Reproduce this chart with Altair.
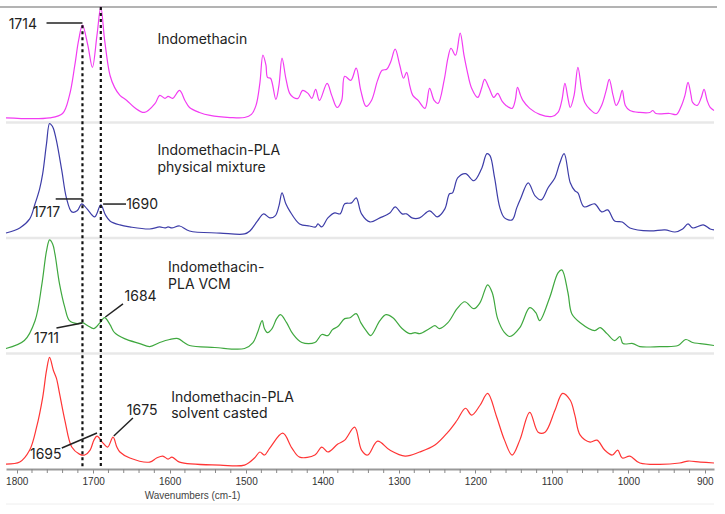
import altair as alt
import pandas as pd

# ---- spectra (wavenumber, relative absorbance within its panel) ----
wn_indo = [1814, 1757, 1740, 1731, 1724, 1719, 1714, 1707, 1701, 1695, 1690, 1685, 1678, 1672, 1665, 1656,
           1646, 1633, 1619, 1613, 1606, 1602, 1596, 1587, 1580, 1574, 1561, 1547, 1521, 1502, 1493, 1487,
           1482, 1478, 1474, 1472, 1468, 1461, 1457, 1453, 1448, 1443, 1438, 1432, 1426, 1419, 1414, 1409,
           1404, 1394, 1388, 1381, 1375, 1371, 1363, 1356, 1350, 1343, 1336, 1328, 1322, 1316, 1311, 1305,
           1299, 1294, 1290, 1286, 1282, 1275, 1266, 1260, 1254, 1249, 1241, 1236, 1232, 1226, 1220, 1215,
           1211, 1205, 1197, 1192, 1188, 1182, 1176, 1171, 1165, 1160, 1152, 1148, 1145, 1141, 1138, 1129,
           1116, 1100, 1092, 1087, 1083, 1079, 1076, 1071, 1066, 1061, 1057, 1050, 1042, 1035, 1029, 1025,
           1020, 1016, 1012, 1008, 1004, 998, 985, 972, 968, 964, 946, 937, 931, 926, 922, 918, 916, 910,
           905, 901, 897, 893, 888]
ab_indo = [0.04, 0.04, 0.078, 0.235, 0.496, 0.713, 0.843, 0.67, 0.478, 0.757, 1.0, 0.713, 0.409, 0.304, 0.235, 0.191,
           0.13, 0.087, 0.165, 0.235, 0.209, 0.226, 0.209, 0.278, 0.191, 0.13, 0.087, 0.061, 0.043, 0.043, 0.07, 0.148,
           0.339, 0.583, 0.496, 0.391, 0.383, 0.2, 0.322, 0.557, 0.383, 0.252, 0.217, 0.209, 0.278, 0.252, 0.209, 0.287,
           0.191, 0.339, 0.235, 0.13, 0.191, 0.4, 0.365, 0.47, 0.278, 0.139, 0.191, 0.365, 0.452, 0.461, 0.522, 0.635,
           0.496, 0.383, 0.435, 0.322, 0.235, 0.191, 0.122, 0.296, 0.191, 0.165, 0.365, 0.557, 0.643, 0.583, 0.774, 0.583,
           0.452, 0.296, 0.217, 0.296, 0.374, 0.296, 0.217, 0.252, 0.183, 0.148, 0.122, 0.191, 0.304, 0.235, 0.191, 0.122,
           0.07, 0.052, 0.087, 0.191, 0.339, 0.209, 0.13, 0.235, 0.478, 0.278, 0.174, 0.113, 0.078, 0.148, 0.278, 0.374,
           0.235, 0.148, 0.191, 0.278, 0.148, 0.104, 0.087, 0.087, 0.104, 0.078, 0.078, 0.07, 0.139, 0.235, 0.348, 0.235, 0.174, 0.148,
           0.209, 0.287, 0.191, 0.13, 0.104]

wn_phys = [1814, 1796, 1783, 1776, 1770, 1766, 1761, 1757, 1754, 1752, 1748, 1741, 1735, 1728, 1721, 1715,
           1708, 1698, 1690, 1684, 1678, 1665, 1652, 1626, 1613, 1606, 1602, 1597, 1587, 1574, 1534, 1502,
           1495, 1485, 1477, 1469, 1462, 1457, 1453, 1448, 1443, 1430, 1417, 1409, 1406, 1401, 1393, 1384,
           1377, 1371, 1362, 1356, 1349, 1338, 1325, 1312, 1305, 1296, 1290, 1283, 1273, 1260, 1250, 1240,
           1234, 1230, 1223, 1213, 1202, 1192, 1185, 1181, 1175, 1168, 1162, 1152, 1146, 1141, 1131, 1122,
           1114, 1105, 1096, 1090, 1084, 1076, 1070, 1066, 1058, 1044, 1035, 1027, 1018, 1008, 998, 972,
           952, 939, 929, 922, 916, 902, 893, 888]
ab_phys = [0.043, 0.087, 0.165, 0.296, 0.426, 0.557, 0.817, 0.991, 0.974, 0.948, 0.843, 0.583, 0.348, 0.226, 0.235, 0.296,
           0.252, 0.183, 0.287, 0.2, 0.148, 0.113, 0.096, 0.078, 0.096, 0.087, 0.096, 0.087, 0.104, 0.061, 0.043, 0.035,
           0.061, 0.148, 0.209, 0.174, 0.191, 0.278, 0.391, 0.296, 0.235, 0.122, 0.104, 0.096, 0.122, 0.096, 0.174, 0.217,
           0.209, 0.296, 0.304, 0.348, 0.209, 0.139, 0.174, 0.217, 0.27, 0.209, 0.209, 0.174, 0.174, 0.235, 0.183, 0.252,
           0.383, 0.391, 0.522, 0.557, 0.496, 0.6, 0.73, 0.713, 0.522, 0.261, 0.174, 0.157, 0.261, 0.339, 0.478, 0.365,
           0.33, 0.435, 0.522, 0.643, 0.73, 0.478, 0.409, 0.391, 0.27, 0.296, 0.226, 0.243, 0.148, 0.139, 0.087, 0.061,
           0.07, 0.052, 0.078, 0.122, 0.087, 0.113, 0.078, 0.07]

wn_vcm = [1814, 1790, 1776, 1767, 1761, 1757, 1753, 1750, 1744, 1737, 1731, 1721, 1714, 1707, 1699, 1691,
          1685, 1678, 1672, 1659, 1639, 1626, 1613, 1600, 1589, 1581, 1574, 1541, 1502, 1491, 1485, 1479,
          1476, 1472, 1466, 1460, 1455, 1447, 1439, 1427, 1410, 1401, 1393, 1387, 1380, 1371, 1364, 1356,
          1350, 1343, 1337, 1325, 1317, 1308, 1296, 1286, 1279, 1273, 1260, 1253, 1247, 1236, 1224, 1214,
          1202, 1194, 1184, 1178, 1171, 1162, 1155, 1142, 1129, 1121, 1116, 1103, 1092, 1087, 1079, 1074,
          1063, 1044, 1037, 1028, 1018, 1011, 1007, 994, 985, 959, 935, 925, 916, 906, 888]
ab_vcm = [0.043, 0.112, 0.284, 0.603, 0.888, 0.983, 0.948, 0.862, 0.603, 0.397, 0.284, 0.259, 0.267, 0.241, 0.216, 0.267,
          0.31, 0.25, 0.181, 0.129, 0.086, 0.06, 0.095, 0.121, 0.129, 0.095, 0.069, 0.052, 0.043, 0.095, 0.181, 0.284,
          0.216, 0.181, 0.216, 0.302, 0.336, 0.267, 0.172, 0.095, 0.095, 0.164, 0.155, 0.207, 0.233, 0.302, 0.31, 0.345,
          0.267, 0.198, 0.155, 0.284, 0.336, 0.31, 0.216, 0.172, 0.181, 0.172, 0.216, 0.241, 0.216, 0.267, 0.388, 0.448,
          0.388, 0.44, 0.595, 0.526, 0.302, 0.181, 0.147, 0.224, 0.397, 0.353, 0.284, 0.483, 0.698, 0.724, 0.526, 0.345,
          0.267, 0.198, 0.224, 0.172, 0.112, 0.147, 0.086, 0.086, 0.06, 0.06, 0.069, 0.121, 0.095, 0.086, 0.069]

wn_solv = [1814, 1796, 1783, 1774, 1766, 1761, 1757, 1752, 1748, 1744, 1737, 1728, 1718, 1711, 1704, 1699,
           1695, 1687, 1681, 1674, 1669, 1665, 1652, 1626, 1617, 1609, 1602, 1597, 1587, 1534, 1502, 1489,
           1482, 1476, 1469, 1452, 1440, 1430, 1410, 1401, 1393, 1380, 1371, 1358, 1349, 1341, 1328, 1312,
           1292, 1273, 1253, 1236, 1224, 1213, 1205, 1194, 1184, 1173, 1162, 1152, 1142, 1129, 1118, 1109,
           1096, 1086, 1076, 1070, 1063, 1050, 1041, 1031, 1021, 1014, 1008, 998, 985, 933, 922, 906, 888]
ab_solv = [0.043, 0.06, 0.164, 0.362, 0.621, 0.853, 0.966, 0.853, 0.784, 0.655, 0.422, 0.19, 0.129, 0.121, 0.164, 0.25,
           0.284, 0.224, 0.19, 0.276, 0.19, 0.147, 0.095, 0.06, 0.095, 0.112, 0.086, 0.103, 0.06, 0.034, 0.034, 0.095,
           0.147, 0.121, 0.181, 0.31, 0.181, 0.103, 0.121, 0.19, 0.147, 0.216, 0.25, 0.362, 0.164, 0.121, 0.241, 0.164,
           0.112, 0.147, 0.207, 0.319, 0.422, 0.526, 0.466, 0.552, 0.655, 0.466, 0.25, 0.121, 0.25, 0.491, 0.319, 0.319,
           0.509, 0.655, 0.595, 0.466, 0.293, 0.233, 0.25, 0.164, 0.121, 0.164, 0.095, 0.112, 0.052, 0.052, 0.069, 0.06, 0.052]

series_names = ["Indomethacin", "Physical mixture", "VCM", "Solvent casted"]
series_offsets = [3, 2, 1, 0]
series_colors = ["#f23cf2", "#3d3da8", "#3fa83f", "#ff3535"]

# sample names (text lines, wavenumber of left edge, vertical position)
name_text = ["Indomethacin", "Indomethacin-PLA", "physical mixture", "Indomethacin-", "PLA VCM",
             "Indomethacin-PLA", "solvent casted"]
name_wn = [1616, 1616, 1616, 1602, 1602, 1598, 1598]
name_y = [3.714, 2.753, 2.606, 1.740, 1.593, 0.615, 0.476]

# peak annotations
peak_text = ["1714", "1717", "1690", "1711", "1684", "1695", "1675"]
peak_text_wn = [1792, 1761, 1636, 1761, 1638, 1762, 1636]
peak_text_y = [3.844, 2.216, 2.286, 1.126, 1.489, 0.121, 0.502]
lead_wn1 = [1761, 1749, 1687, 1748, 1661, 1741, 1648]
lead_y1 = [3.861, 2.338, 2.294, 1.221, 1.429, 0.182, 0.442]
lead_wn2 = [1714, 1714, 1657, 1714, 1684, 1695, 1673]
lead_y2 = [3.861, 2.338, 2.294, 1.264, 1.316, 0.312, 0.286]

# dotted reference lines
ref_wn = [1714, 1690]
ref_top = [3.843, 4.0]

# axis ticks
major_ticks = [1800, 1700, 1600, 1500, 1400, 1300, 1200, 1100, 1000, 900]
minor_ticks = [v for v in range(900, 1801, 20) if v % 100 != 0]

# ---- build tables ----
rows = []
for name, off, wns, abs_ in zip(series_names, series_offsets,
                                 [wn_indo, wn_phys, wn_vcm, wn_solv],
                                 [ab_indo, ab_phys, ab_vcm, ab_solv]):
    for w, a in zip(wns, abs_):
        rows.append({"wn": w, "y": a + off, "series": name})
spec = pd.DataFrame(rows)

names_df = pd.DataFrame({"t": name_text, "wn": name_wn, "y": name_y})
peaks_df = pd.DataFrame({"t": peak_text, "wn": peak_text_wn, "y": peak_text_y})
leads_df = pd.DataFrame({"wn": lead_wn1, "y": lead_y1, "wn2": lead_wn2, "y2": lead_y2})
refs_df = pd.DataFrame({"wn": ref_wn, "top": ref_top, "bot": [0, 0]})
sep_df = pd.DataFrame({"y": [1, 2, 3]})
top_df = pd.DataFrame({"y": [4]})
minor_df = pd.DataFrame({"wn": minor_ticks})

xscale = alt.Scale(domain=[888, 1814], reverse=True, nice=False, zero=False)
yscale = alt.Scale(domain=[0, 4], nice=False, zero=False)

xaxis = alt.Axis(values=major_ticks, format="d",
                 labelOverlap=False, labelBound=False,
                 title="Wavenumbers (cm-1)", titleX=186, titleY=21, titleAnchor="start",
                 titleAlign="center", titleFont="Liberation Sans", titleFontSize=10,
                 titleFontWeight="normal", titleColor="#444",
                 labelFont="Liberation Sans", labelFontSize=10, labelColor="#333",
                 labelPadding=3, tickSize=4, tickColor="#888", domainColor="#999",
                 domainWidth=2, grid=False, labelFlush=False)

base = alt.Chart(spec)

seps = alt.Chart(sep_df).mark_rule(color="#e8e8e8", strokeWidth=2.5).encode(
    y=alt.Y("y:Q", scale=yscale, axis=None))
topline = alt.Chart(top_df).mark_rule(color="#9a9a9a", strokeWidth=1.5).encode(
    y=alt.Y("y:Q", scale=yscale, axis=None), x=alt.value(-6), x2=alt.value(711))
bottomline = alt.Chart(top_df).mark_rule(color="#eeeeee", strokeWidth=1).encode(
    x=alt.value(0), x2=alt.value(708), y=alt.value(497))
minor = alt.Chart(minor_df).mark_rule(color="#888", strokeWidth=1).encode(
    x=alt.X("wn:Q", scale=xscale), y=alt.value(462), y2=alt.value(466))

lines = base.mark_line(strokeWidth=1.2, interpolate="catmull-rom").encode(
    x=alt.X("wn:Q", scale=xscale, axis=xaxis),
    y=alt.Y("y:Q", scale=yscale, axis=None),
    color=alt.Color("series:N", scale=alt.Scale(domain=series_names, range=series_colors), legend=None),
    order=alt.Order("wn:Q"),
    detail="series:N",
)

refs = alt.Chart(refs_df).mark_rule(color="#111", strokeWidth=2.2, strokeDash=[3, 3]).encode(
    x=alt.X("wn:Q", scale=xscale), y=alt.Y("top:Q", scale=yscale), y2="bot:Q")

leads = alt.Chart(leads_df).mark_rule(color="#222", strokeWidth=1.5).encode(
    x=alt.X("wn:Q", scale=xscale), y=alt.Y("y:Q", scale=yscale), x2="wn2:Q", y2="y2:Q")

names = alt.Chart(names_df).mark_text(align="left", baseline="middle", font="Inter",
                                      fontSize=14, color="#222").encode(
    x=alt.X("wn:Q", scale=xscale), y=alt.Y("y:Q", scale=yscale), text="t:N")

peaks = alt.Chart(peaks_df).mark_text(align="center", baseline="middle", font="Inter",
                                      fontSize=14, color="#222").encode(
    x=alt.X("wn:Q", scale=xscale), y=alt.Y("y:Q", scale=yscale), text="t:N")

chart = alt.layer(seps, topline, bottomline, lines, minor, refs, leads, names, peaks).properties(
    width=708, height=462,
    autosize=alt.AutoSizeParams(type="none"),
    padding={"left": 6, "top": 7, "right": 11, "bottom": 45},
    background="white",
).configure_view(stroke=None)

chart.save("out.html", embed_options={"renderer": "svg", "actions": False})
